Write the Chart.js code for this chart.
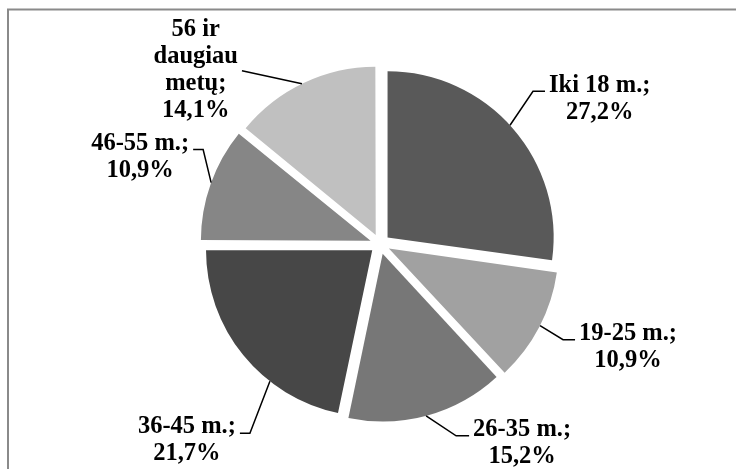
<!DOCTYPE html>
<html>
<head>
<meta charset="utf-8">
<script src="https://cdn.jsdelivr.net/npm/chart.js@4"></script>
<style>
  html, body { margin: 0; padding: 0; background: #fff; }
  #wrap { width: 736px; height: 469px; }
</style>
</head>
<body>
<div id="wrap"><canvas id="myChart" width="736" height="469"></canvas></div>
<script>
// age groups (multi line names wrap like in the original)
const categories = [
  ['Iki 18 m.'],
  ['19-25 m.'],
  ['26-35 m.'],
  ['36-45 m.'],
  ['46-55 m.'],
  ['56 ir', 'daugiau', 'metų']
];
const shares = [27.2, 10.9, 15.2, 21.7, 10.9, 14.1];
const sliceColors = ['#595959', '#a1a1a1', '#777777', '#474747', '#868686', '#c0c0c0'];

// where each leader line leaves its slice (deg clockwise from top) and bends
const labelLayout = [
  { angle: 47.5, elbow: [23, -34], tail: 12, dy: 1 },
  { angle: 117, elbow: [23, 14], tail: 12, dy: 0 },
  { angle: 165, elbow: [30, 20], tail: 13, dy: 0 },
  { angle: 218, elbow: [-20, 52], tail: -10, dy: 0 },
  { angle: 290, elbow: [-8, -33], tail: -10, dy: 0 },
  { angle: 334, elbow: [-60, -13], tail: 0, dy: -35 }
];

const FONT = 'bold 24.5px "Liberation Serif", "Times New Roman", serif';
const LINE_H = 27;

const frame = {
  id: 'frame',
  beforeDraw(chart) {
    const ctx = chart.ctx;
    ctx.save();
    ctx.strokeStyle = '#8a8a8a';
    ctx.lineWidth = 2;
    ctx.beginPath();
    ctx.moveTo(8, chart.height);
    ctx.lineTo(8, 9.5);
    ctx.lineTo(chart.width, 9.5);
    ctx.stroke();
    ctx.restore();
  }
};

const pieLabels = {
  id: 'pieLabels',
  afterDatasetsDraw(chart) {
    const ctx = chart.ctx;
    const meta = chart.getDatasetMeta(0);
    ctx.save();
    ctx.font = FONT;
    ctx.fillStyle = '#000';
    ctx.strokeStyle = '#000';
    ctx.lineWidth = 1.5;
    meta.data.forEach((arc, i) => {
      const lay = labelLayout[i];
      const p = arc.getProps(['x', 'y', 'startAngle', 'endAngle', 'outerRadius', 'circumference'], true);
      const shift = (arc.options.offset || 0) / 4;
      const mid = (p.startAngle + p.endAngle) / 2;
      const fix = 1 - Math.sin(Math.min(Math.PI, p.circumference));
      const r = p.outerRadius + shift * fix;
      const a = (lay.angle - 90) * Math.PI / 180;
      const sx = p.x + Math.cos(mid) * shift + Math.cos(a) * r;
      const sy = p.y + Math.sin(mid) * shift + Math.sin(a) * r;
      const ex = sx + lay.elbow[0];
      const ey = sy + lay.elbow[1];
      const tx = ex + lay.tail;

      ctx.beginPath();
      ctx.moveTo(sx, sy);
      ctx.lineTo(ex, ey);
      if (lay.tail !== 0) ctx.lineTo(tx, ey);
      ctx.stroke();

      const lines = categories[i].slice();
      lines[lines.length - 1] += ';';
      lines.push(shares[i].toFixed(1).replace('.', ',') + '%');
      const maxW = Math.max(...lines.map(l => ctx.measureText(l).width));
      const toRight = lay.tail > 0;
      const cx = toRight ? tx + 4 + maxW / 2 : tx - 4 - maxW / 2;
      ctx.textAlign = 'center';
      ctx.textBaseline = 'alphabetic';
      lines.forEach((l, k) => {
        ctx.fillText(l, cx, ey + lay.dy + k * LINE_H);
      });
    });
    ctx.restore();
  }
};

new Chart(document.getElementById('myChart'), {
  type: 'pie',
  data: {
    labels: categories.map(c => c.join(' ')),
    datasets: [{
      data: shares,
      backgroundColor: sliceColors,
      borderWidth: 0,
      offset: 40,
      radius: 166
    }]
  },
  options: {
    responsive: false,
    animation: false,
    layout: { padding: { left: 34, right: 10, top: 29, bottom: 10 } },
    plugins: {
      legend: { display: false },
      tooltip: { enabled: false }
    }
  },
  plugins: [frame, pieLabels]
});
</script>
</body>
</html>
